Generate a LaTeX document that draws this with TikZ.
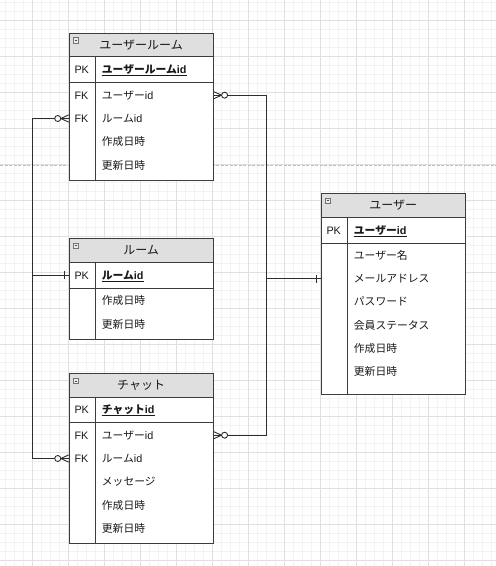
\documentclass[tikz,border=0pt]{standalone}
\usepackage{fontspec}
\setmainfont{Liberation Sans}
\newfontfamily\jp{Noto Sans CJK JP}
\usetikzlibrary{calc}
\definecolor{gridminor}{RGB}{243,243,243}
\definecolor{gridmajor}{RGB}{224,224,224}
\definecolor{hdrfill}{RGB}{223,223,223}
\definecolor{edgecol}{RGB}{60,60,60}
\definecolor{conncol}{RGB}{45,45,45}
\definecolor{pagebreak}{RGB}{190,190,190}
\definecolor{txtcol}{RGB}{25,25,25}

\newcommand\ertbl[7]{%
  \node[tbl, minimum height={#6-#3}] (#1) at (#2,#3) {};
  \node[hdr, minimum height={#4-#3}] (#1-h) at (#2,#3) {#7};
  \draw[tline] (#2,#5) -- ({#2+144},#5);
  \draw[tline] ({#2+26.6},#4) -- ({#2+26.6},#6);
  \draw[iconbox] ({#2+4.6},{#3+5}) rectangle ({#2+9.8},{#3+10.2});
  \draw[iconline] ({#2+5.8},{#3+7.6}) -- ({#2+8.6},{#3+7.6});
}

\tikzset{
  zmany/.pic={
    \draw[conn] (0,-3.6) -- (8,0) -- (0,3.6);
    \draw[conn] (0,0) -- (8,0);
    \draw[conn, fill=white] (11,0) circle[radius=3pt];
  },
  onetick/.pic={
    \draw[conn] (4,-4) -- (4,4);
  }
}

\begin{document}
\begin{tikzpicture}[x=1pt,y=-1pt,
  tbl/.style={draw=edgecol, line width=0.9pt, fill=white, anchor=north west, minimum width=144pt, inner sep=0pt},
  hdr/.style={draw=edgecol, line width=0.9pt, fill=hdrfill, anchor=north west, minimum width=144pt, inner sep=0pt, text height=10pt, text depth=1pt, text=txtcol, font=\fontsize{12}{14}\selectfont\jp},
  tline/.style={draw=edgecol, line width=0.9pt},
  iconbox/.style={draw=black!55, fill=black!8, line width=0.6pt},
  iconline/.style={draw=black!70, line width=0.8pt},
  rowtext/.style={anchor=west, inner sep=0pt, text height=9pt, text depth=1pt, text=txtcol, font=\fontsize{10.8}{13}\selectfont},
  keytext/.style={rowtext},
  pkname/.style={rowtext, font=\fontsize{10.8}{13}\selectfont\bfseries},
  uline/.style={draw=txtcol, line width=1pt},
  conn/.style={draw=conncol, line width=0.9pt},
  gmin/.style={draw=gridminor, line width=0.6pt},
  gmaj/.style={draw=gridmajor, line width=0.7pt},
]
\useasboundingbox (0,0) rectangle (496,566);
\fill[white] (0,0) rectangle (496,566);

% grid
\foreach \i in {0,...,55} \draw[gmin] ({5.7+9*\i},0) -- ({5.7+9*\i},566);
\foreach \i in {0,...,63} \draw[gmin] (0,{2.7+9*\i}) -- (496,{2.7+9*\i});
\foreach \i in {0,...,13} \draw[gmaj] ({32.7+36*\i},0) -- ({32.7+36*\i},566);
\foreach \i in {0,...,15} \draw[gmaj] (0,{20.7+36*\i}) -- (496,{20.7+36*\i});
% page break
\draw[draw=pagebreak, line width=0.8pt, dash pattern=on 3pt off 1.5pt] (0,165) -- (496,165);

\coordinate (lbus) at (32.7,0);
\coordinate (rbus) at (266.7,0);

% ユーザールーム
\ertbl{ur}{68.7}{32.7}{56.3}{82.7}{180}{ユーザールーム}
\node[keytext] (ur-k0) at (74.3,69.5) {PK};
\node[pkname] (ur-pk) at (101.7,69.5) {{\jp ユーザールーム}id};
\draw[uline] ([yshift=-1pt]ur-pk.south west) -- ([yshift=-1pt]ur-pk.south east);
\node[keytext] (ur-k1) at (74.3,95.2) {FK};
\node[rowtext] (ur-a1) at (101.7,95.2) {{\jp ユーザー}id};
\node[keytext] (ur-k2) at (74.3,118.5) {FK};
\node[rowtext] (ur-a2) at (101.7,118.5) {{\jp ルーム}id};
\node[rowtext] (ur-a3) at (101.7,141.8) {\jp 作成日時};
\node[rowtext] (ur-a4) at (101.7,165.1) {\jp 更新日時};

% ルーム
\ertbl{rm}{68.7}{238.1}{261.7}{288.3}{339}{ルーム}
\node[keytext] (rm-k0) at (74.3,275) {PK};
\node[pkname] (rm-pk) at (101.7,275) {{\jp ルーム}id};
\draw[uline] ([yshift=-1pt]rm-pk.south west) -- ([yshift=-1pt]rm-pk.south east);
\node[rowtext] (rm-a1) at (101.7,300.8) {\jp 作成日時};
\node[rowtext] (rm-a2) at (101.7,324.1) {\jp 更新日時};

% チャット
\ertbl{ch}{68.7}{373.3}{396.5}{422.7}{543.3}{チャット}
\node[keytext] (ch-k0) at (74.3,409.6) {PK};
\node[pkname] (ch-pk) at (101.7,409.6) {{\jp チャット}id};
\draw[uline] ([yshift=-1pt]ch-pk.south west) -- ([yshift=-1pt]ch-pk.south east);
\node[keytext] (ch-k1) at (74.3,435.2) {FK};
\node[rowtext] (ch-a1) at (101.7,435.2) {{\jp ユーザー}id};
\node[keytext] (ch-k2) at (74.3,458.5) {FK};
\node[rowtext] (ch-a2) at (101.7,458.5) {{\jp ルーム}id};
\node[rowtext] (ch-a3) at (101.7,481.8) {\jp メッセージ};
\node[rowtext] (ch-a4) at (101.7,505.1) {\jp 作成日時};
\node[rowtext] (ch-a5) at (101.7,528.4) {\jp 更新日時};

% ユーザー
\ertbl{us}{320.7}{193}{216.7}{243.3}{394.3}{ユーザー}
\node[keytext] (us-k0) at (326.3,230) {PK};
\node[pkname] (us-pk) at (353.7,230) {{\jp ユーザー}id};
\draw[uline] ([yshift=-1pt]us-pk.south west) -- ([yshift=-1pt]us-pk.south east);
\node[rowtext] (us-a1) at (353.7,255.3) {\jp ユーザー名};
\node[rowtext] (us-a2) at (353.7,278.6) {\jp メールアドレス};
\node[rowtext] (us-a3) at (353.7,301.9) {\jp パスワード};
\node[rowtext] (us-a4) at (353.7,325.2) {\jp 会員ステータス};
\node[rowtext] (us-a5) at (353.7,348.5) {\jp 作成日時};
\node[rowtext] (us-a6) at (353.7,371.8) {\jp 更新日時};

% connectors
\draw[conn] (ur.west |- ur-a2) -- (lbus |- ur-a2) -- (lbus |- rm-pk) -- (rm.west |- rm-pk);
\draw[conn] (ch.west |- ch-a2) -- (lbus |- ch-a2) -- (lbus |- rm-pk) -- (rm.west |- rm-pk);
\draw[conn] (ur.east |- ur-a1) -- (rbus |- ur-a1) -- (rbus |- us-a2) -- (us.west |- us-a2);
\draw[conn] (ch.east |- ch-a1) -- (rbus |- ch-a1) -- (rbus |- us-a2) -- (us.west |- us-a2);
\pic[xscale=-1] at (ur.west |- ur-a2) {zmany};
\pic[xscale=-1] at (ch.west |- ch-a2) {zmany};
\pic at (ur.east |- ur-a1) {zmany};
\pic at (ch.east |- ch-a1) {zmany};
\pic[xscale=-1] at (rm.west |- rm-pk) {onetick};
\pic[xscale=-1] at (us.west |- us-a2) {onetick};
\end{tikzpicture}
\end{document}
